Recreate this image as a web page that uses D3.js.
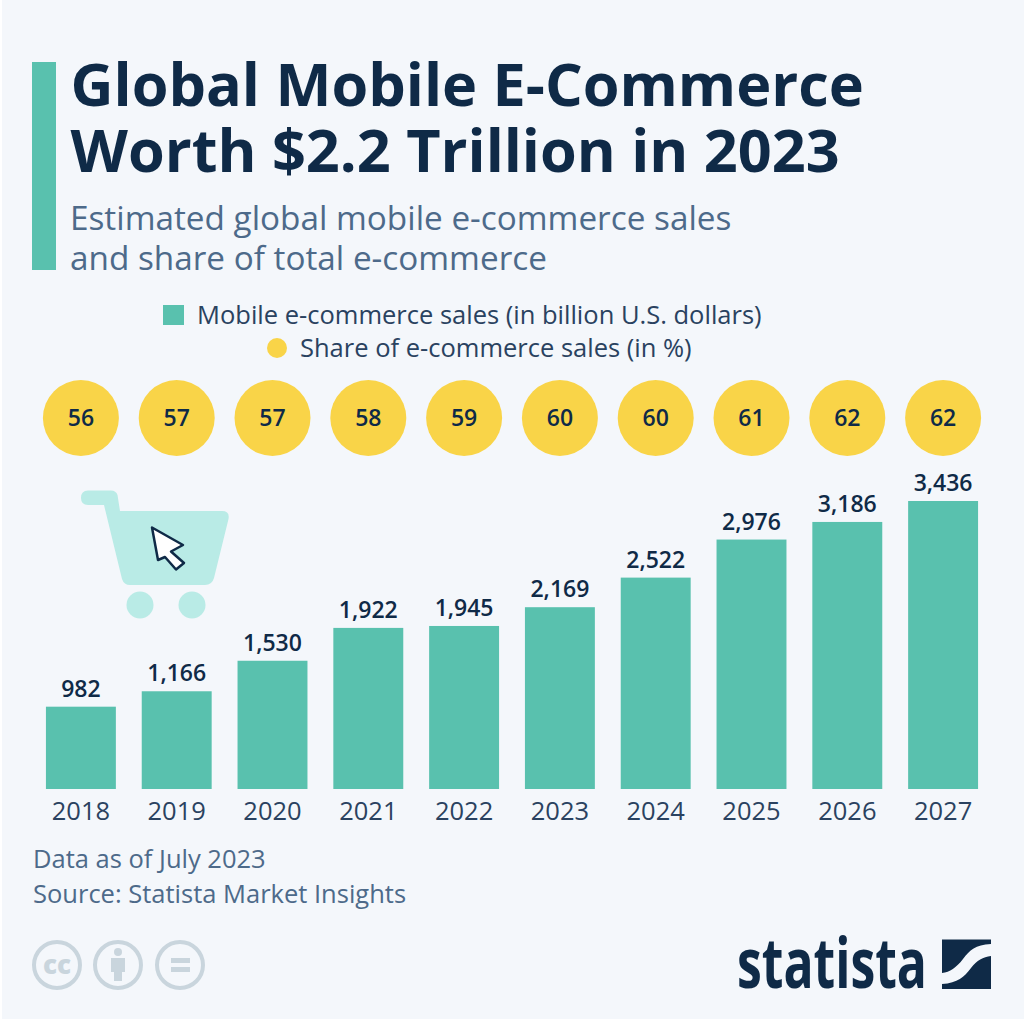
<!DOCTYPE html>
<html><head><meta charset="utf-8">
<script src="https://cdn.jsdelivr.net/npm/d3@7/dist/d3.min.js"></script>
<style>html,body{margin:0;padding:0;background:#fff}svg{display:block}text{font-family:"Open Sans",sans-serif}</style>
</head><body><svg id="c" width="1024" height="1022"></svg>
<script>
const years=["2018","2019","2020","2021","2022","2023","2024","2025","2026","2027"];
const sales=[982,1166,1530,1922,1945,2169,2522,2976,3186,3436];
const shares=[56,57,57,58,59,60,60,61,62,62];
const titleLines=["Global Mobile E-Commerce","Worth $2.2 Trillion in 2023"];
const subtitleLines=["Estimated global mobile e-commerce sales","and share of total e-commerce"];
const sourceLines=["Data as of July 2023","Source: Statista Market Insights"];
const legendBar="Mobile e-commerce sales (in billion U.S. dollars)";
const legendDot="Share of e-commerce sales (in %)";
const NAVY="#0f2a47",TEAL="#59c1ae",YEL="#f9d448",SLATE="#4d6a8a",GREY="#c9d5dd";
const svg=d3.select("#c");
svg.append("rect").attr("x",2).attr("y",0).attr("width",1022).attr("height",1019).attr("fill","#f4f7fb");
svg.append("rect").attr("x",32).attr("y",62).attr("width",24).attr("height",208).attr("fill",TEAL);
svg.selectAll(".t").data(titleLines).join("text").attr("x",70.5).attr("y",(d,i)=>106+i*66)
 .attr("font-size",59.4).attr("font-weight",700).attr("fill",NAVY).text(d=>d);
svg.selectAll(".s").data(subtitleLines).join("text").attr("x",70).attr("y",(d,i)=>230+i*40)
 .attr("font-size",33.3).attr("fill",SLATE).text(d=>d);
svg.append("rect").attr("x",163).attr("y",305).attr("width",21).attr("height",20).attr("fill",TEAL);
svg.append("text").attr("x",197).attr("y",324).attr("font-size",25.5).attr("fill","#2a4260").text(legendBar);
svg.append("circle").attr("cx",277).attr("cy",348).attr("r",10).attr("fill",YEL);
svg.append("text").attr("x",300).attr("y",357).attr("font-size",25.5).attr("fill","#2a4260").text(legendDot);
const x=d3.scaleBand().domain(years).range([33,991]).paddingInner(0.27).paddingOuter(0.135);
const y=d3.scaleLinear().domain([0,3436]).range([789,501]);
const g=svg.append("g");
g.selectAll("rect").data(years).join("rect").attr("x",d=>x(d)).attr("width",x.bandwidth())
 .attr("y",(d,i)=>y(sales[i])).attr("height",(d,i)=>y(0)-y(sales[i])).attr("fill",TEAL);
const fmt=d3.format(",");
g.selectAll(".v").data(years).join("text").attr("text-anchor","middle").attr("x",d=>x(d)+x.bandwidth()/2)
 .attr("y",(d,i)=>y(sales[i])-10).attr("font-size",23).attr("font-weight",600).attr("fill",NAVY).text((d,i)=>fmt(sales[i]));
const axis=d3.axisBottom(x).tickSize(0).tickPadding(0);
const ag=svg.append("g").attr("transform","translate(0,796)").call(axis);
ag.select(".domain").remove();
ag.selectAll("text").attr("font-size",25.5).attr("fill","#2a4260").attr("font-family",'"Open Sans",sans-serif').attr("dy","0.95em");
g.selectAll(".c").data(years).join("circle").attr("cx",d=>x(d)+x.bandwidth()/2).attr("cy",418).attr("r",38).attr("fill",YEL);
g.selectAll(".p").data(years).join("text").attr("text-anchor","middle").attr("x",d=>x(d)+x.bandwidth()/2).attr("y",426)
 .attr("font-size",23).attr("font-weight",600).attr("fill",NAVY).text((d,i)=>shares[i]);
svg.selectAll(".f").data(sourceLines).join("text").attr("x",33).attr("y",(d,i)=>868+i*35)
 .attr("font-size",25.5).attr("fill",SLATE).text(d=>d);
// cart
const cart=svg.append("g").attr("fill","#b9ebe6");
cart.append("path").attr("d","M88 490.5H111Q116 490.5 117.5 495L120 511H222Q230 511 228.5 519L214 578Q212 585 205 585H130Q124 585 122 579L104 505H88Q81 505 81 498Q81 490.5 88 490.5Z");
cart.append("circle").attr("cx",140).attr("cy",605).attr("r",13.5);
cart.append("circle").attr("cx",192).attr("cy",605).attr("r",13.5);
svg.append("path").attr("d","M152 527.5L183 545L171 551.5L184 563L176 569.5L165 557L158 560Z").attr("fill","#fff").attr("stroke",NAVY).attr("stroke-width",2.5).attr("stroke-linejoin","round");
// cc icons
const cc=svg.append("g");
[57,118,180].forEach(cx=>cc.append("circle").attr("cx",cx).attr("cy",965).attr("r",23).attr("fill","none").attr("stroke",GREY).attr("stroke-width",4));
cc.append("text").attr("x",57).attr("y",974).attr("text-anchor","middle").attr("font-size",26).attr("font-weight",800).attr("fill",GREY).text("cc");
cc.append("circle").attr("cx",118).attr("cy",952).attr("r",4).attr("fill",GREY);
cc.append("path").attr("d","M111 958H125V972H122V981H114V972H111Z").attr("fill",GREY);
cc.append("rect").attr("x",171).attr("y",958).attr("width",19).attr("height",5).attr("fill",GREY);
cc.append("rect").attr("x",171).attr("y",967).attr("width",19).attr("height",5).attr("fill",GREY);
// logo
svg.append("text").attr("x",737).attr("y",988).attr("font-family",'"Open Sans",sans-serif').attr("font-size",70).attr("font-weight",700).attr("fill",NAVY).attr("textLength",190).attr("lengthAdjust","spacingAndGlyphs").text("statista");
svg.append("path").attr("d","M942 939.5H991V944C975 945 970 950 963 959C956 968 950 972 942 973Z").attr("fill",NAVY);
svg.append("path").attr("d","M991 956V989H942V984C958 983 964 977 971 968C977 960 983 957 991 956Z").attr("fill",NAVY);
</script></body></html>
